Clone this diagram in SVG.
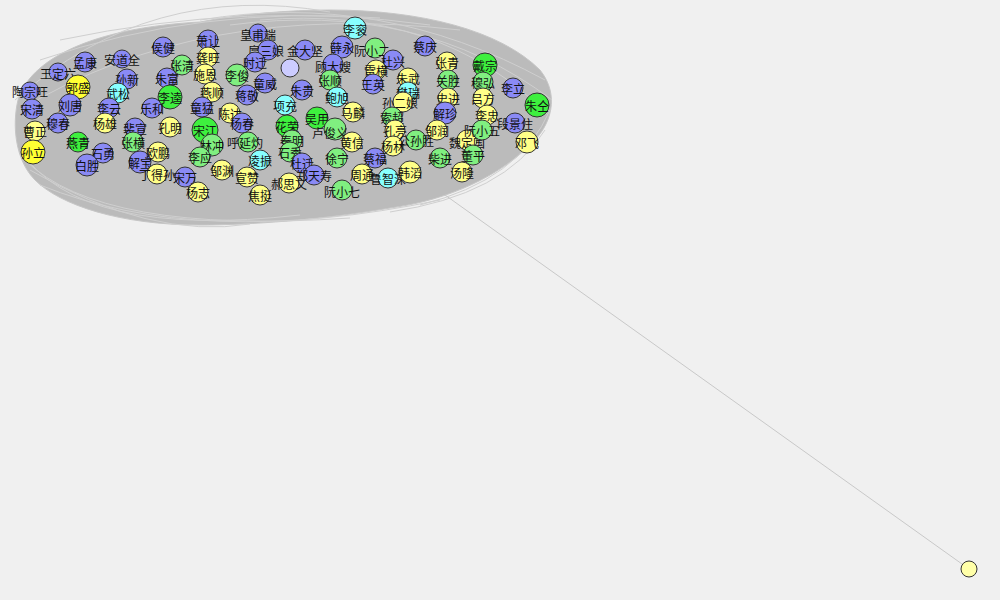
<svg xmlns="http://www.w3.org/2000/svg" width="1000" height="600" viewBox="0 0 1000 600">
<style>
circle{stroke:#333;stroke-width:1}
.p{fill:#8a8af5}.g{fill:#80ef80}.G{fill:#3ef03e}.y{fill:#ffff88}.Y{fill:#ffff33}.c{fill:#88ffff}.l{fill:#ccccff}
text{font-family:"Noto Sans CJK SC","Noto Sans",sans-serif;font-size:12px;fill:#111;text-anchor:middle;dominant-baseline:central}
.e{fill:none;stroke:#cfcfcf;stroke-width:1}
</style>
<rect width="1000" height="600" fill="#f0f0f0"/>
<g id="connectors">
<path d="M18,100 C30,60 90,28 200,22 C240,14 290,10 330,10 C420,10 500,30 540,70 C560,95 552,125 530,145 C500,175 450,200 390,208 C320,220 250,225 200,225 C120,225 60,205 35,180 C15,160 12,125 18,100 Z" fill="#bbbbbb" stroke="#c6c6c6"/>
<path class="e" d="M15,100 Q150,-20 330,12"/>
<path class="e" d="M20,110 Q200,0 460,30"/>
<path class="e" d="M200,20 Q380,-10 545,80"/>
<path class="e" d="M230,25 Q420,0 552,100"/>
<path class="e" d="M260,20 Q440,5 548,115"/>
<path class="e" d="M20,150 Q80,240 300,215"/>
<path class="e" d="M40,185 Q200,250 440,200"/>
<path class="e" d="M545,130 Q505,195 390,212"/>
<path class="e" d="M550,110 Q520,180 420,205"/>
<path class="e" d="M30,170 Q150,240 250,224"/>
<path class="e" d="M25,160 Q100,235 350,218"/>
<path class="e" d="M60,40 Q250,0 430,25"/>
<path class="e" d="M40,60 Q200,5 380,18"/>
<line x1="445" y1="195" x2="969" y2="569" stroke="#c8c8c8" stroke-width="1"/>
</g>
<g id="n1"><circle class="p" cx="85" cy="62" r="10"/><text x="85" y="62">孟康</text></g>
<g id="n2"><circle class="p" cx="122" cy="59" r="9"/><text x="122" y="59">安道全</text></g>
<g id="n3"><circle class="p" cx="58" cy="72" r="9"/><text x="58" y="73">王定六</text></g>
<g id="n4"><circle class="p" cx="127" cy="79" r="10"/><text x="127" y="79">孙新</text></g>
<g id="n5"><circle class="Y" cx="78" cy="87" r="12"/><text x="78" y="87">郭盛</text></g>
<g id="n6"><circle class="p" cx="30" cy="91" r="9"/><text x="30" y="91">陶宗旺</text></g>
<g id="n7"><circle class="c" cx="118" cy="93" r="10"/><text x="118" y="93">武松</text></g>
<g id="n8"><circle class="p" cx="70" cy="105" r="11"/><text x="70" y="105">刘唐</text></g>
<g id="n9"><circle class="p" cx="32" cy="109" r="10"/><text x="32" y="109">宋清</text></g>
<g id="n10"><circle class="p" cx="109" cy="108" r="10"/><text x="109" y="108">李云</text></g>
<g id="n11"><circle class="p" cx="58" cy="123" r="10"/><text x="58" y="123">穆春</text></g>
<g id="n12"><circle class="y" cx="35" cy="131" r="10"/><text x="35" y="131">曹正</text></g>
<g id="n13"><circle class="y" cx="105" cy="123" r="10"/><text x="105" y="123">杨雄</text></g>
<g id="n14"><circle class="G" cx="78" cy="142" r="10"/><text x="78" y="142">燕青</text></g>
<g id="n15"><circle class="Y" cx="33" cy="152" r="12"/><text x="33" y="152">孙立</text></g>
<g id="n16"><circle class="p" cx="103" cy="153" r="10"/><text x="103" y="153">石勇</text></g>
<g id="n17"><circle class="p" cx="87" cy="165" r="11"/><text x="87" y="165">白胜</text></g>
<g id="n18"><circle class="p" cx="135" cy="128" r="10"/><text x="135" y="128">裴宣</text></g>
<g id="n19"><circle class="g" cx="133" cy="142" r="10"/><text x="133" y="142">张横</text></g>
<g id="n20"><circle class="p" cx="140" cy="162" r="11"/><text x="140" y="162">解宝</text></g>
<g id="n21"><circle class="y" cx="158" cy="152" r="10"/><text x="158" y="152">欧鹏</text></g>
<g id="n22"><circle class="y" cx="170" cy="127" r="10"/><text x="170" y="127">孔明</text></g>
<g id="n23"><circle class="y" cx="157" cy="174" r="10"/><text x="157" y="174">丁得孙</text></g>
<g id="n24"><circle class="p" cx="185" cy="177" r="10"/><text x="185" y="177">宋万</text></g>
<g id="n25"><circle class="y" cx="198" cy="192" r="10"/><text x="198" y="192">杨志</text></g>
<g id="n26"><circle class="p" cx="163" cy="47" r="10"/><text x="163" y="47">侯健</text></g>
<g id="n27"><circle class="p" cx="208" cy="40" r="10"/><text x="208" y="40">萧让</text></g>
<g id="n28"><circle class="g" cx="182" cy="65" r="10"/><text x="182" y="65">张清</text></g>
<g id="n29"><circle class="p" cx="167" cy="78" r="10"/><text x="167" y="78">朱富</text></g>
<g id="n30"><circle class="G" cx="170" cy="97" r="12"/><text x="170" y="97">李逵</text></g>
<g id="n31"><circle class="p" cx="152" cy="108" r="10"/><text x="152" y="108">乐和</text></g>
<g id="n32"><circle class="y" cx="208" cy="57" r="10"/><text x="208" y="57">龚旺</text></g>
<g id="n33"><circle class="y" cx="205" cy="74" r="10"/><text x="205" y="74">施恩</text></g>
<g id="n34"><circle class="g" cx="237" cy="75" r="11"/><text x="237" y="75">李俊</text></g>
<g id="n35"><circle class="y" cx="212" cy="92" r="10"/><text x="212" y="92">燕顺</text></g>
<g id="n36"><circle class="p" cx="258" cy="33" r="9"/><text x="258" y="34">皇甫端</text></g>
<g id="n37"><circle class="p" cx="268" cy="50" r="10"/><text x="266" y="50">扈三娘</text></g>
<g id="n38"><circle class="p" cx="255" cy="62" r="10"/><text x="255" y="62">时迁</text></g>
<g id="n39"><circle class="p" cx="265" cy="83" r="10"/><text x="265" y="83">童威</text></g>
<g id="n40"><circle class="p" cx="247" cy="95" r="10"/><text x="247" y="95">蒋敬</text></g>
<g id="n41"><circle class="p" cx="202" cy="107" r="10"/><text x="202" y="107">童猛</text></g>
<g id="n42"><circle class="y" cx="230" cy="113" r="10"/><text x="230" y="113">陈达</text></g>
<g id="n43"><circle class="G" cx="205" cy="130" r="13"/><text x="205" y="130">宋江</text></g>
<g id="n44"><circle class="g" cx="212" cy="145" r="11"/><text x="212" y="145">林冲</text></g>
<g id="n45"><circle class="g" cx="200" cy="157" r="10"/><text x="200" y="157">李应</text></g>
<g id="n46"><circle class="p" cx="242" cy="123" r="10"/><text x="242" y="123">杨春</text></g>
<g id="n47"><circle class="g" cx="248" cy="142" r="10"/><text x="245" y="142">呼延灼</text></g>
<g id="n48"><circle class="y" cx="222" cy="170" r="10"/><text x="222" y="170">邹渊</text></g>
<g id="n49"><circle class="c" cx="260" cy="160" r="10"/><text x="260" y="160">凌振</text></g>
<g id="n50"><circle class="y" cx="247" cy="177" r="10"/><text x="247" y="177">宣赞</text></g>
<g id="n51"><circle class="y" cx="260" cy="195" r="10"/><text x="260" y="195">焦挺</text></g>
<g id="n52"><circle class="c" cx="355" cy="28" r="11"/><text x="355" y="29">李衮</text></g>
<g id="n53"><circle class="p" cx="342" cy="47" r="11"/><text x="342" y="47">薛永</text></g>
<g id="n54"><circle class="p" cx="305" cy="50" r="10"/><text x="305" y="50">金大坚</text></g>
<g id="n55"><circle class="g" cx="375" cy="48" r="10"/><text x="372" y="50">阮小二</text></g>
<g id="n56"><circle class="p" cx="393" cy="60" r="10"/><text x="393" y="61">杜兴</text></g>
<g id="n57"><circle class="l" cx="290" cy="68" r="9"/></g>
<g id="n58"><circle class="p" cx="333" cy="64" r="10"/><text x="333" y="66">顾大嫂</text></g>
<g id="n59"><circle class="y" cx="376" cy="70" r="10"/><text x="376" y="70">雷横</text></g>
<g id="n60"><circle class="y" cx="408" cy="78" r="10"/><text x="408" y="78">朱武</text></g>
<g id="n61"><circle class="g" cx="330" cy="80" r="10"/><text x="330" y="80">张顺</text></g>
<g id="n62"><circle class="p" cx="373" cy="84" r="10"/><text x="373" y="84">王英</text></g>
<g id="n63"><circle class="p" cx="302" cy="90" r="10"/><text x="302" y="90">朱贵</text></g>
<g id="n64"><circle class="c" cx="337" cy="97" r="10"/><text x="337" y="97">鲍旭</text></g>
<g id="n65"><circle class="c" cx="285" cy="105" r="10"/><text x="285" y="105">项充</text></g>
<g id="n66"><circle class="y" cx="353" cy="112" r="10"/><text x="353" y="112">马麟</text></g>
<g id="n67"><circle class="c" cx="408" cy="92" r="10"/><text x="408" y="92">樊瑞</text></g>
<g id="n68"><circle class="y" cx="403" cy="102" r="10"/><text x="400" y="102">孙二娘</text></g>
<g id="n69"><circle class="g" cx="392" cy="117" r="10"/><text x="392" y="117">索超</text></g>
<g id="n70"><circle class="y" cx="395" cy="130" r="10"/><text x="395" y="130">孔亮</text></g>
<g id="n71"><circle class="y" cx="393" cy="146" r="10"/><text x="393" y="146">杨林</text></g>
<g id="n72"><circle class="g" cx="416" cy="140" r="10"/><text x="416" y="140">公孙胜</text></g>
<g id="n73"><circle class="G" cx="317" cy="118" r="11"/><text x="317" y="118">吴用</text></g>
<g id="n74"><circle class="G" cx="287" cy="126" r="11"/><text x="287" y="126">花荣</text></g>
<g id="n75"><circle class="g" cx="335" cy="129" r="11"/><text x="330" y="132">卢俊义</text></g>
<g id="n76"><circle class="g" cx="292" cy="140" r="10"/><text x="292" y="140">秦明</text></g>
<g id="n77"><circle class="g" cx="290" cy="152" r="10"/><text x="290" y="152">石秀</text></g>
<g id="n78"><circle class="y" cx="352" cy="142" r="10"/><text x="352" y="142">黄信</text></g>
<g id="n79"><circle class="g" cx="337" cy="158" r="10"/><text x="337" y="158">徐宁</text></g>
<g id="n80"><circle class="p" cx="302" cy="163" r="10"/><text x="302" y="163">杜迁</text></g>
<g id="n81"><circle class="p" cx="314" cy="175" r="10"/><text x="314" y="175">郑天寿</text></g>
<g id="n82"><circle class="y" cx="289" cy="183" r="10"/><text x="289" y="183">郝思文</text></g>
<g id="n83"><circle class="g" cx="342" cy="190" r="10"/><text x="342" y="191">阮小七</text></g>
<g id="n84"><circle class="p" cx="375" cy="158" r="10"/><text x="375" y="158">蔡福</text></g>
<g id="n85"><circle class="y" cx="362" cy="174" r="10"/><text x="362" y="174">周通</text></g>
<g id="n86"><circle class="c" cx="388" cy="178" r="10"/><text x="388" y="178">鲁智深</text></g>
<g id="n87"><circle class="y" cx="410" cy="172" r="11"/><text x="410" y="172">韩滔</text></g>
<g id="n88"><circle class="p" cx="425" cy="46" r="10"/><text x="425" y="46">蔡庆</text></g>
<g id="n89"><circle class="y" cx="447" cy="62" r="10"/><text x="447" y="62">张青</text></g>
<g id="n90"><circle class="g" cx="448" cy="80" r="10"/><text x="448" y="80">关胜</text></g>
<g id="n91"><circle class="y" cx="448" cy="98" r="10"/><text x="448" y="98">史进</text></g>
<g id="n92"><circle class="p" cx="445" cy="113" r="11"/><text x="445" y="113">解珍</text></g>
<g id="n93"><circle class="y" cx="437" cy="130" r="10"/><text x="437" y="130">邹润</text></g>
<g id="n94"><circle class="g" cx="440" cy="158" r="10"/><text x="440" y="158">柴进</text></g>
<g id="n95"><circle class="y" cx="467" cy="140" r="10"/><text x="467" y="142">魏定国</text></g>
<g id="n96"><circle class="g" cx="473" cy="155" r="10"/><text x="473" y="155">董平</text></g>
<g id="n97"><circle class="y" cx="462" cy="172" r="10"/><text x="462" y="172">汤隆</text></g>
<g id="n98"><circle class="G" cx="485" cy="65" r="12"/><text x="485" y="65">戴宗</text></g>
<g id="n99"><circle class="g" cx="483" cy="82" r="10"/><text x="483" y="82">穆弘</text></g>
<g id="n100"><circle class="y" cx="483" cy="98" r="10"/><text x="483" y="98">吕方</text></g>
<g id="n101"><circle class="p" cx="513" cy="88" r="10"/><text x="513" y="88">李立</text></g>
<g id="n102"><circle class="G" cx="537" cy="105" r="12"/><text x="537" y="105">朱仝</text></g>
<g id="n103"><circle class="y" cx="487" cy="115" r="10"/><text x="487" y="115">李忠</text></g>
<g id="n104"><circle class="g" cx="482" cy="130" r="10"/><text x="482" y="130">阮小五</text></g>
<g id="n105"><circle class="p" cx="515" cy="123" r="10"/><text x="515" y="123">段景住</text></g>
<g id="n106"><circle class="y" cx="527" cy="142" r="11"/><text x="527" y="142">邓飞</text></g>
<g id="n107"><circle cx="969" cy="569" r="8" fill="#ffffa8"/></g>
</svg>
